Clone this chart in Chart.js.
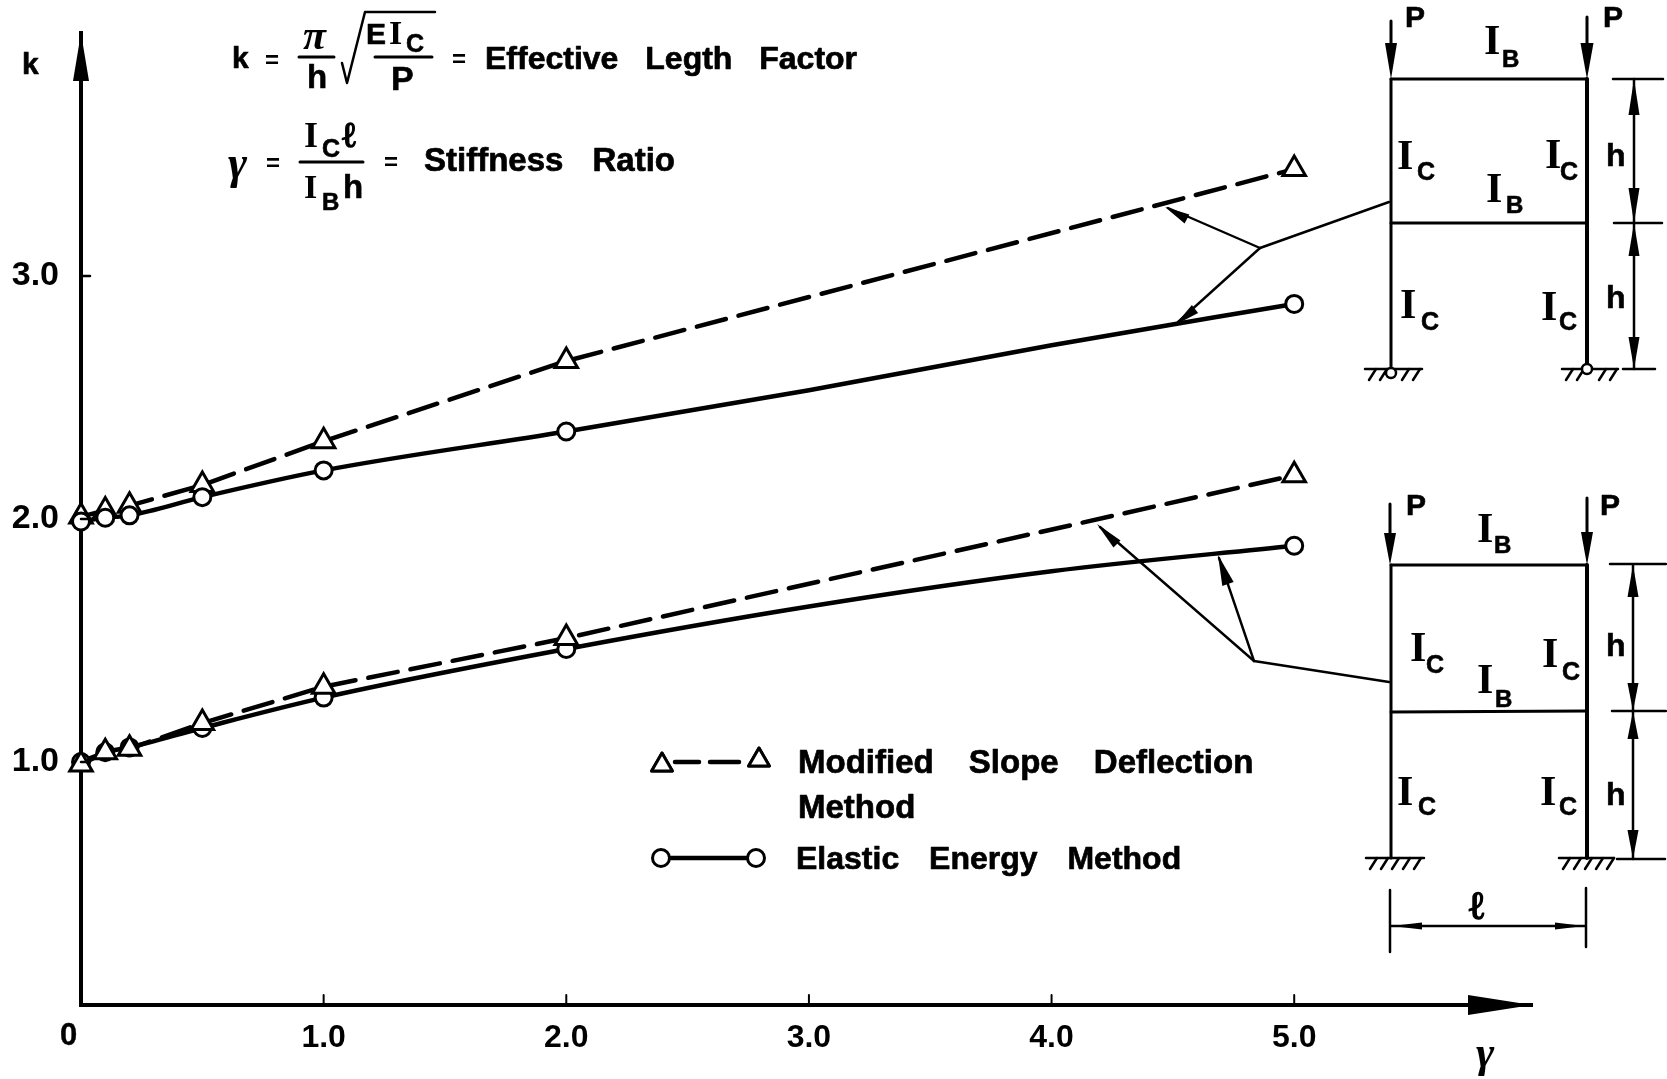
<!DOCTYPE html>
<html>
<head>
<meta charset="utf-8">
<title>Effective length factor</title>
<script src="https://cdn.jsdelivr.net/npm/chart.js@4"></script>
<style>
  html, body { margin: 0; padding: 0; background: #fff; }
  canvas { display: block; }
</style>
</head>
<body>
<canvas id="chart" width="1667" height="1079"></canvas>
<script>
// values
const markedGamma = [0, 0.1, 0.2, 0.5, 1, 2, 5];
const curveGamma = [0, 0.1, 0.2, 0.5, 1, 2, 3, 4, 5];

const pinnedSlope = [2.01, 2.035, 2.055, 2.14, 2.32, 2.65, 3.44];
const pinnedEnergy = [1.99, 2.005, 2.015, 2.09, 2.2, 2.36, 2.53, 2.715, 2.885];
const fixedSlope = [0.99, 1.04, 1.055, 1.16, 1.31, 1.51, 2.18];
const fixedEnergy = [1, 1.04, 1.06, 1.14, 1.265, 1.465, 1.64, 1.785, 1.89];

const xTicks = [1, 2, 3, 4, 5];
const yTicks = [1, 2, 3];
const xTickLabels = ["", "1.0", "2.0", "3.0", "4.0", "5.0"];
const yTickLabels = ["", "1.0", "2.0", "3.0", ""];

const INK = "#000";
const SANS = "'Liberation Sans'";
const SERIF = "'Liberation Serif'";

function toPoints(xs, ys) {
  return xs.map((x, i) => ({ x: x, y: ys[i] }));
}

function slopeSet(name, values, order) {
  return {
    label: name,
    data: toPoints(markedGamma, values),
    borderColor: INK,
    borderWidth: 4.5,
    borderDash: [30, 13],
    borderCapStyle: "round",
    pointStyle: "triangle",
    pointRadius: 13,
    pointBorderWidth: 3,
    pointBorderColor: INK,
    pointBackgroundColor: "#fff",
    clip: false,
    order: order
  };
}

function energySet(name, values, order) {
  return {
    label: name,
    data: toPoints(curveGamma, values),
    borderColor: INK,
    borderWidth: 4.5,
    cubicInterpolationMode: "monotone",
    pointStyle: "circle",
    // x = 3 and 4 only carry the curve, they have no marker
    pointRadius: (ctx) => (markedGamma.includes(curveGamma[ctx.dataIndex]) ? 8.5 : 0),
    pointBorderWidth: 3,
    pointBorderColor: INK,
    pointBackgroundColor: "#fff",
    clip: false,
    order: order
  };
}

// --- small drawing helpers for the lettering and the frame sketches ---
function text(ctx, str, x, y, size, face, opts) {
  const o = opts || {};
  ctx.font = (o.style || "bold") + " " + size + "px " + (face || SANS);
  ctx.wordSpacing = (o.words || 0) + "px";
  ctx.textAlign = "left";
  ctx.textBaseline = "alphabetic";
  ctx.fillStyle = INK;
  ctx.fillText(str, x, y);
  if (o.heavy) {
    ctx.lineWidth = o.heavy;
    ctx.strokeStyle = INK;
    ctx.lineJoin = "round";
    ctx.strokeText(str, x, y);
  }
  ctx.wordSpacing = "0px";
}

function line(ctx, pts, width) {
  ctx.beginPath();
  ctx.lineWidth = width;
  ctx.strokeStyle = INK;
  ctx.lineCap = "round";
  ctx.lineJoin = "round";
  pts.forEach((p, i) => (i ? ctx.lineTo(p[0], p[1]) : ctx.moveTo(p[0], p[1])));
  ctx.stroke();
}

function arrowHead(ctx, tipX, tipY, baseX, baseY, half) {
  const dx = baseX - tipX;
  const dy = baseY - tipY;
  const len = Math.hypot(dx, dy);
  const nx = -dy / len * half;
  const ny = dx / len * half;
  ctx.beginPath();
  ctx.moveTo(tipX, tipY);
  ctx.lineTo(baseX + nx, baseY + ny);
  ctx.lineTo(baseX - nx, baseY - ny);
  ctx.closePath();
  ctx.fillStyle = INK;
  ctx.fill();
}

function ground(ctx, x0, x1, y, skipX) {
  line(ctx, [[x0, y], [x1, y]], 2.5);
  for (let x = x0 + 11; x <= x1; x += 11) {
    if (skipX && Math.abs(x - 4 - skipX) < 5) continue;
    line(ctx, [[x, y], [x - 7, y + 11]], 2.5);
  }
}

function sectionLabel(ctx, x, y, sub, subX, subY) {
  text(ctx, "I", x, y, 42, SERIF);
  text(ctx, sub, subX, subY, 25, SANS, { heavy: 0.6 });
}

function drawFormulas(ctx) {
  // k = pi/h sqrt(EIc/P)
  text(ctx, "k", 232, 68, 30, SANS, { heavy: 0.6 });
  text(ctx, "=", 265, 68, 24);
  text(ctx, "π", 303, 49, 42, SERIF, { style: "italic bold" });
  line(ctx, [[299, 57], [334, 57]], 3);
  text(ctx, "h", 307, 88, 33, SANS, { heavy: 0.6 });
  line(ctx, [[342, 63], [347, 83], [365, 12], [435, 12]], 2.5);
  text(ctx, "E", 366, 44, 30, SANS, { heavy: 0.6 });
  text(ctx, "I", 389, 44, 34, SERIF);
  text(ctx, "C", 406, 52, 25, SANS, { heavy: 0.6 });
  line(ctx, [[375, 57], [432, 57]], 3);
  text(ctx, "P", 391, 90, 34, SANS, { heavy: 0.6 });
  text(ctx, "=", 452, 67, 24);
  text(ctx, "Effective Legth Factor", 485, 69, 32, SANS, { words: 18, heavy: 0.7 });

  // gamma = Ic l / Ib h
  text(ctx, "γ", 228, 178, 46, SERIF, { style: "italic bold" });
  text(ctx, "=", 266, 171, 24);
  text(ctx, "I", 304, 147, 36, SERIF);
  text(ctx, "C", 322, 157, 25, SANS, { heavy: 0.6 });
  text(ctx, "ℓ", 342, 147, 36, SERIF, { heavy: 1.4 });
  line(ctx, [[300, 162], [363, 162]], 3);
  text(ctx, "I", 304, 198, 34, SERIF);
  text(ctx, "B", 322, 210, 24, SANS, { heavy: 0.6 });
  text(ctx, "h", 343, 198, 33, SANS, { heavy: 0.6 });
  text(ctx, "=", 384, 170, 24);
  text(ctx, "Stiffness Ratio", 424, 171, 33, SANS, { words: 20, heavy: 0.7 });
}

function drawLegend(ctx) {
  // hand placed key, same marker shapes as the series
  ctx.save();
  ctx.lineWidth = 3;
  ctx.strokeStyle = INK;
  ctx.fillStyle = "#fff";
  [[662, 765], [759, 760]].forEach((p) => {
    Chart.helpers.drawPoint(ctx, { pointStyle: "triangle", radius: 12, rotation: 0, borderWidth: 3 }, p[0], p[1]);
    ctx.fill();
    ctx.stroke();
  });
  ctx.restore();
  line(ctx, [[675, 762], [699, 762]], 4.5);
  line(ctx, [[710, 762], [739, 762]], 4.5);
  line(ctx, [[671, 858], [747, 858]], 4.5);
  ctx.save();
  ctx.lineWidth = 3;
  ctx.strokeStyle = INK;
  [[661, 858], [756, 858]].forEach((p) => {
    ctx.beginPath();
    ctx.arc(p[0], p[1], 8.5, 0, Math.PI * 2);
    ctx.fillStyle = "#fff";
    ctx.fill();
    ctx.stroke();
  });
  ctx.restore();
  text(ctx, "Modified Slope Deflection", 798, 773, 33, SANS, { words: 26, heavy: 0.7 });
  text(ctx, "Method", 798, 818, 33, SANS, { heavy: 0.7 });
  text(ctx, "Elastic Energy Method", 796, 869, 32, SANS, { words: 21, heavy: 0.7 });
}

function drawLeaders(ctx) {
  // upper pair
  line(ctx, [[1389, 202], [1260, 248]], 2.4);
  line(ctx, [[1260, 248], [1168, 208]], 2.4);
  line(ctx, [[1260, 248], [1178, 322]], 2.4);
  arrowHead(ctx, 1165, 207, 1187, 219, 5);
  arrowHead(ctx, 1175, 325, 1195, 309, 5);
  // lower pair
  line(ctx, [[1389, 682], [1254, 661]], 2.4);
  line(ctx, [[1254, 661], [1100, 527]], 2.4);
  line(ctx, [[1254, 661], [1219, 558]], 2.4);
  arrowHead(ctx, 1097, 524, 1117, 544, 5);
  arrowHead(ctx, 1218, 555, 1228, 584, 6);
}

function drawUpperFrame(ctx) {
  line(ctx, [[1391, 79], [1391, 367]], 3);
  line(ctx, [[1587, 79], [1587, 367]], 4);
  line(ctx, [[1391, 79], [1587, 79]], 3);
  line(ctx, [[1391, 223], [1587, 223]], 3);
  line(ctx, [[1391, 21], [1391, 50]], 3);
  arrowHead(ctx, 1391, 79, 1391, 43, 6);
  line(ctx, [[1587, 17], [1587, 50]], 3);
  arrowHead(ctx, 1587, 79, 1587, 43, 6.5);
  text(ctx, "P", 1405, 27, 30, SANS, { heavy: 0.6 });
  text(ctx, "P", 1603, 27, 30, SANS, { heavy: 0.6 });
  text(ctx, "I", 1484, 54, 42, SERIF);
  text(ctx, "B", 1502, 67, 24, SANS, { heavy: 0.6 });
  sectionLabel(ctx, 1397, 169, "C", 1417, 180);
  sectionLabel(ctx, 1545, 168, "C", 1560, 180);
  text(ctx, "I", 1486, 202, 42, SERIF);
  text(ctx, "B", 1506, 213, 24, SANS, { heavy: 0.6 });
  sectionLabel(ctx, 1400, 318, "C", 1421, 330);
  sectionLabel(ctx, 1541, 320, "C", 1559, 330);
  text(ctx, "h", 1606, 166, 32, SANS, { heavy: 0.6 });
  text(ctx, "h", 1606, 308, 32, SANS, { heavy: 0.6 });
  // height dimension
  line(ctx, [[1634, 79], [1634, 369]], 2.5);
  line(ctx, [[1613, 79], [1663, 79]], 2.5);
  line(ctx, [[1614, 223], [1662, 223]], 2.5);
  line(ctx, [[1623, 369], [1655, 369]], 2.5);
  arrowHead(ctx, 1634, 79, 1634, 115, 5.5);
  arrowHead(ctx, 1634, 223, 1634, 188, 5.5);
  arrowHead(ctx, 1634, 223, 1634, 256, 5.5);
  arrowHead(ctx, 1634, 369, 1634, 337, 5.5);
  // pinned bases
  ground(ctx, 1365, 1422, 369, 1391);
  ground(ctx, 1562, 1618, 369, 1587);
  ctx.fillStyle = "#fff";
  ctx.lineWidth = 2.5;
  ctx.strokeStyle = INK;
  [[1391, 373], [1587, 369]].forEach((p) => {
    ctx.beginPath();
    ctx.arc(p[0], p[1], 5, 0, Math.PI * 2);
    ctx.fill();
    ctx.stroke();
  });
}

function drawLowerFrame(ctx) {
  line(ctx, [[1391, 565], [1391, 858]], 3);
  line(ctx, [[1587, 565], [1587, 858]], 4);
  line(ctx, [[1391, 565], [1587, 565]], 3);
  line(ctx, [[1391, 712], [1587, 711]], 3);
  line(ctx, [[1390, 504], [1390, 540]], 3);
  arrowHead(ctx, 1390, 565, 1390, 533, 6);
  line(ctx, [[1587, 498], [1587, 540]], 3);
  arrowHead(ctx, 1587, 565, 1587, 532, 6);
  text(ctx, "P", 1406, 515, 30, SANS, { heavy: 0.6 });
  text(ctx, "P", 1600, 515, 30, SANS, { heavy: 0.6 });
  text(ctx, "I", 1477, 542, 42, SERIF);
  text(ctx, "B", 1494, 553, 24, SANS, { heavy: 0.6 });
  sectionLabel(ctx, 1410, 661, "C", 1426, 673);
  sectionLabel(ctx, 1542, 667, "C", 1562, 680);
  text(ctx, "I", 1477, 693, 42, SERIF);
  text(ctx, "B", 1495, 707, 24, SANS, { heavy: 0.6 });
  sectionLabel(ctx, 1397, 805, "C", 1418, 815);
  sectionLabel(ctx, 1540, 805, "C", 1559, 815);
  text(ctx, "h", 1606, 656, 32, SANS, { heavy: 0.6 });
  text(ctx, "h", 1606, 805, 32, SANS, { heavy: 0.6 });
  // height dimension
  line(ctx, [[1633, 565], [1633, 859]], 2.5);
  line(ctx, [[1610, 564], [1666, 564]], 2.5);
  line(ctx, [[1612, 711], [1666, 711]], 2.5);
  line(ctx, [[1617, 859], [1665, 859]], 2.5);
  arrowHead(ctx, 1633, 565, 1633, 597, 5.5);
  arrowHead(ctx, 1633, 711, 1633, 683, 5.5);
  arrowHead(ctx, 1633, 711, 1633, 739, 5.5);
  arrowHead(ctx, 1633, 859, 1633, 830, 5.5);
  // fixed bases
  ground(ctx, 1366, 1424, 858);
  ground(ctx, 1559, 1614, 858);
  // span dimension
  line(ctx, [[1390, 890], [1390, 952]], 2.5);
  line(ctx, [[1586, 888], [1586, 947]], 2.5);
  line(ctx, [[1391, 926], [1585, 926]], 2.5);
  arrowHead(ctx, 1392, 926, 1422, 926, 3.5);
  arrowHead(ctx, 1584, 926, 1555, 926, 3.5);
  text(ctx, "ℓ", 1469, 919, 40, SERIF, { heavy: 1.4 });
}

const sketchPlugin = {
  id: "sketch",
  afterDraw(chart) {
    const ctx = chart.ctx;
    const x = chart.scales.x;
    const y = chart.scales.y;
    ctx.save();

    // inside ticks and axis arrows
    xTicks.forEach((v) => {
      const px = x.getPixelForValue(v);
      line(ctx, [[px, y.bottom], [px, y.bottom - 10]], 2);
    });
    yTicks.forEach((v) => {
      const py = y.getPixelForValue(v);
      line(ctx, [[x.left, py], [x.left + 9, py]], 2.5);
    });
    arrowHead(ctx, x.left, y.top, x.left, y.top + 48, 8);
    arrowHead(ctx, x.right, y.bottom, x.right - 64, y.bottom, 10);

    text(ctx, "k", 22, 74, 30, SANS, { heavy: 0.6 });
    text(ctx, "0", 60, 1045, 31, SANS, { heavy: 0.4 });
    text(ctx, "γ", 1476, 1067, 44, SERIF, { style: "italic bold" });

    drawFormulas(ctx);
    drawLegend(ctx);
    drawLeaders(ctx);
    drawUpperFrame(ctx);
    drawLowerFrame(ctx);
    ctx.restore();
  }
};

new Chart(document.getElementById("chart"), {
  type: "line",
  data: {
    datasets: [
      slopeSet("Modified Slope Deflection Method", pinnedSlope, 2),
      energySet("Elastic Energy Method", pinnedEnergy, 1),
      slopeSet("Modified Slope Deflection Method", fixedSlope, 1),
      energySet("Elastic Energy Method", fixedEnergy, 2)
    ]
  },
  options: {
    responsive: false,
    animation: false,
    layout: { padding: { top: 33, right: 135 } },
    plugins: {
      legend: { display: false },
      tooltip: { enabled: false }
    },
    scales: {
      x: {
        type: "linear",
        min: 0,
        max: 5.98,
        afterFit: (scale) => { scale.height = 74; },
        grid: { drawOnChartArea: false, drawTicks: false },
        border: { color: INK, width: 4 },
        ticks: {
          stepSize: 1,
          includeBounds: false,
          maxRotation: 0,
          autoSkip: false,
          padding: 14,
          color: INK,
          font: { family: "Liberation Sans", weight: "bold", size: 32 },
          callback: (value, i) => xTickLabels[i]
        }
      },
      y: {
        type: "linear",
        min: 0,
        max: 4,
        afterFit: (scale) => {
          scale.width = 81;
          // the label overhang otherwise pushes the plot top down
          scale.paddingTop = 0;
          scale.paddingBottom = 0;
        },
        grid: { drawOnChartArea: false, drawTicks: false },
        border: { color: INK, width: 4 },
        ticks: {
          stepSize: 1,
          padding: 22,
          autoSkip: false,
          color: INK,
          font: { family: "Liberation Sans", weight: "bold", size: 34 },
          callback: (value, i) => yTickLabels[i]
        }
      }
    }
  },
  plugins: [sketchPlugin]
});
</script>
</body>
</html>
